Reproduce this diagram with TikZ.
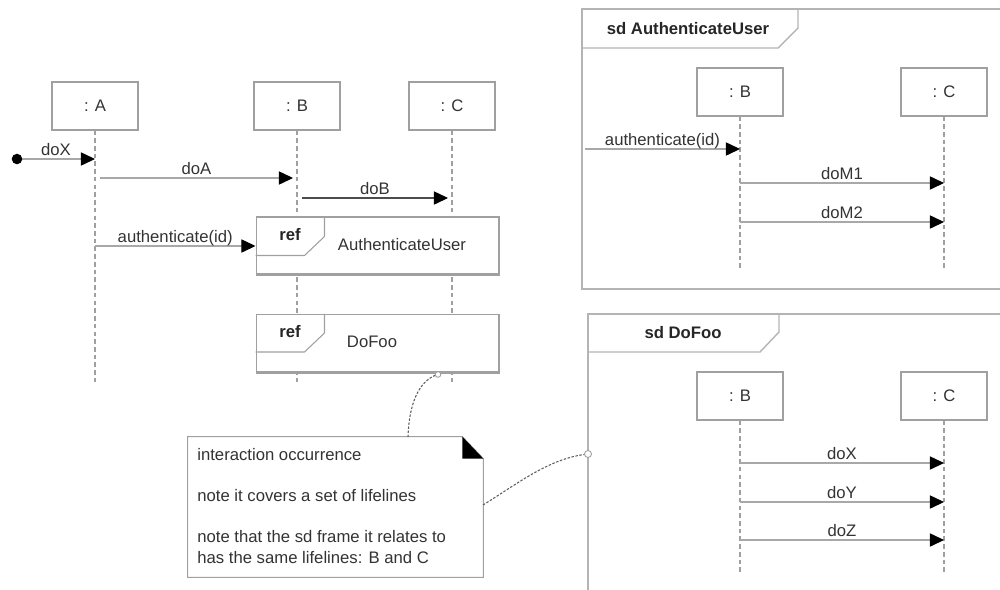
\documentclass[tikz,border=0pt]{standalone}
\usepackage{fontspec}
\setmainfont{Liberation Sans}
\usetikzlibrary{arrows.meta,calc}
\definecolor{boxgray}{HTML}{A0A0A0}
\definecolor{linegray}{HTML}{A8A8A8}
\definecolor{framegray}{HTML}{B4B4B4}
\definecolor{txt}{HTML}{333333}
\begin{document}
\begin{tikzpicture}[x=0.02cm,y=-0.02cm,
  font=\fontsize{9.5}{11.4}\selectfont, text=txt,
  lifebox/.style={draw=boxgray, fill=white, minimum width=1.72cm, minimum height=0.96cm, inner sep=0pt, line width=0.6pt},
  lifeline/.style={draw=boxgray, dash pattern=on 2.6pt off 1.8pt, line width=0.6pt},
  msg/.style={draw=linegray, line width=0.6pt, -{Triangle[length=8pt,width=7.5pt,color=black]}},
  msglab/.style={midway, above=1.6pt, inner sep=0pt, text depth=0pt},
  refbox/.style={draw=boxgray, fill=white, line width=0.6pt, minimum width=4.86cm, minimum height=1.14cm, inner sep=0pt},
  tab/.style={draw=boxgray, line width=0.6pt},
  framel/.style={draw=framegray, line width=0.8pt},
  conn/.style={draw=txt!80, line width=0.6pt, dash pattern=on 1.4pt off 0.9pt},
  bold/.style={font=\fontsize{9.5}{11.4}\selectfont\bfseries, text=black!85},
  notetext/.style={anchor=base west, inner sep=0pt}
]
\useasboundingbox (0,0) rectangle (1000,589);

% ---------------- main diagram ----------------
\node[lifebox] (A) at (95,106) {: A};
\node[lifebox] (B) at (297,106) {: B};
\node[lifebox] (C) at (452,106) {: C};
\coordinate (Aend) at (95,385);
\coordinate (Bend) at (297,385);
\coordinate (Cend) at (452,385);
\draw[lifeline] (A.south) -- (Aend);
\draw[lifeline] (B.south) -- (Bend);
\draw[lifeline] (C.south) -- (Cend);

% messages
\coordinate (start) at (17,159);
\draw[msg] (start) -- (A |- 0,159) node[msglab] {doX};
\fill[black] (start) circle (3pt);
\draw[msg] ($(A |- 0,178)+(5,0)$) -- ($(B |- 0,178)+(-4,0)$) node[msglab] {doA};
\draw[msg, draw=black!70] ($(B |- 0,198)+(5,0)$) -- ($(C |- 0,198)+(-4,0)$) node[msglab] {doB};

% ref boxes
\node[refbox] (R1) at (377.5,245.5) {};
\draw[msg] (A |- 0,246) -- (R1.west |- 0,246) node[msglab] {authenticate(id)};
\draw[tab] ($(R1.north west)+(69,0)$) -- ($(R1.north west)+(69,20)$) -- ($(R1.north west)+(49,39)$) -- ($(R1.north west)+(0,39)$);
\draw[boxgray, line width=1.2pt] ($(R1.south west)+(0,0.5)$) -- ($(R1.south east)+(0,0.5)$);
\node[bold] (R1ref) at (290,235) {ref};
\node (R1txt) at (402,245) {AuthenticateUser};

\node[refbox] (R2) at (377.5,343) {};
\draw[tab] ($(R2.north west)+(69,0)$) -- ($(R2.north west)+(69,19)$) -- ($(R2.north west)+(49,38)$) -- ($(R2.north west)+(0,38)$);
\draw[boxgray, line width=1.2pt] ($(R2.south west)+(0,0.5)$) -- ($(R2.south east)+(0,0.5)$);
\node[bold] (R2ref) at (290,332) {ref};
\node (R2txt) at (372,342) {DoFoo};

% ---------------- sd AuthenticateUser ----------------
\draw[framel] (1010,9) -- (582,9) -- (582,289) -- (1010,289);
\draw[framel] (798,9) -- (798,28) -- (778,48) -- (582,48);
\node[bold] (F1lab) at (688,29) {sd AuthenticateUser};
\node[lifebox] (B1) at (740,92) {: B};
\node[lifebox] (C1) at (944,92) {: C};
\coordinate (B1end) at (740,270);
\coordinate (C1end) at (944,270);
\draw[lifeline] (B1.south) -- (B1end);
\draw[lifeline] (C1.south) -- (C1end);
\coordinate (F1in) at (585,149);
\draw[msg] (F1in) -- (B1 |- 0,149) node[msglab] {authenticate(id)};
\draw[msg] (B1 |- 0,183) -- (C1 |- 0,183) node[msglab] {doM1};
\draw[msg] (B1 |- 0,222) -- (C1 |- 0,222) node[msglab] {doM2};

% ---------------- sd DoFoo ----------------
\draw[framel] (1010,314) -- (588,314) -- (588,600);
\draw[framel] (779,314) -- (779,332) -- (760,352) -- (588,352);
\node[bold] (F2lab) at (683,333) {sd DoFoo};
\node[lifebox] (B2) at (740,396) {: B};
\node[lifebox] (C2) at (944,396) {: C};
\coordinate (B2end) at (740,575);
\coordinate (C2end) at (944,575);
\draw[lifeline] (B2.south) -- (B2end);
\draw[lifeline] (C2.south) -- (C2end);
\draw[msg] (B2 |- 0,463) -- (C2 |- 0,463) node[msglab] {doX};
\draw[msg] (B2 |- 0,502) -- (C2 |- 0,502) node[msglab] {doY};
\draw[msg] (B2 |- 0,540) -- (C2 |- 0,540) node[msglab] {doZ};

% ---------------- note ----------------
\node[inner sep=0pt, minimum width=5.9cm, minimum height=2.8cm] (note) at (335.5,507) {};
\draw[boxgray, fill=white, line width=0.6pt] (note.north west) -- ($(note.north east)+(-21,0)$) -- ($(note.north east)+(0,22)$) -- (note.south east) -- (note.south west) -- cycle;
\fill[black] ($(note.north east)+(-21,0)$) -- ($(note.north east)+(-21,22)$) -- ($(note.north east)+(0,22)$) -- cycle;
\node[notetext] (n1) at (197,460) {interaction occurrence};
\node[notetext] (n2) at (197,501) {note it covers a set of lifelines};
\node[notetext] (n3) at (197,542) {note that the sd frame it relates to};
\node[notetext] (n4) at (197,563) {has the same lifelines: B and C};

% note connectors
\coordinate (ntop) at (408,437);
\coordinate (dfc) at (436,375);
\coordinate (nright) at (483,505);
\coordinate (fc) at (588,454);
\draw[conn] (ntop) .. controls (409,405) and (418,382) .. (dfc);
\draw[boxgray, fill=white, line width=0.5pt] (438,374.5) circle (1.6pt);
\draw[conn] (nright) .. controls (520,482) and (550,458) .. (fc);
\draw[boxgray, fill=white, line width=0.5pt] (fc) circle (2pt);
\end{tikzpicture}
\end{document}
